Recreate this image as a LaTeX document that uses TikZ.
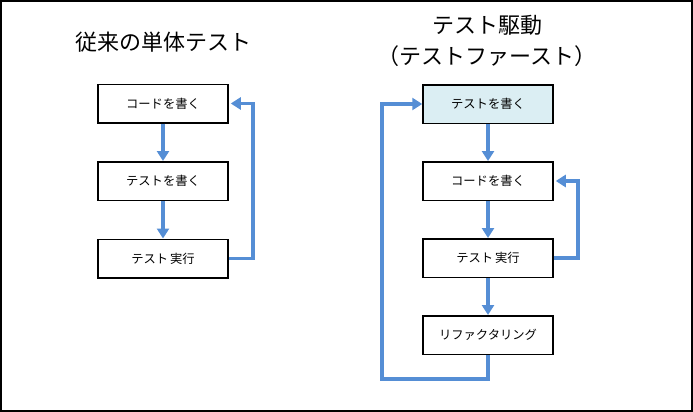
\documentclass[tikz,border=0pt]{standalone}
\usepackage{fontspec}
\setmainfont{Noto Sans CJK JP}
\usetikzlibrary{arrows.meta}
\definecolor{flowblue}{RGB}{85,142,213}
\definecolor{startfill}{RGB}{219,238,243}
\tikzset{
  stepbox/.style={draw=black,line width=1.5pt,minimum width=130pt,minimum height=38.5pt,inner sep=0pt,font=\fontsize{12.3pt}{14pt}\selectfont},
  flow/.style={draw=flowblue,line width=3.5pt,-{Triangle[width=12pt,length=10pt]}},
  titletext/.style={font=\fontsize{22pt}{26pt}\selectfont,inner sep=0pt,align=center}
}
\begin{document}
\begin{tikzpicture}[x=1pt,y=-1pt]
\useasboundingbox (0,0) rectangle (693,412);
\draw[line width=2pt] (1,1) rectangle (692,411);
% left
\node[titletext] (lt) at (163,42) {従来の単体テスト};
\node[stepbox] (L1) at (163,103.5) {コードを書く};
\node[stepbox] (L2) at (163,181) {テストを書く};
\node[stepbox] (L3) at (163,258.5) {テスト\hspace{2pt}実行};
\draw[flow] (L1) -- (L2);
\draw[flow] (L2) -- (L3);
\draw[flow,shorten >=2pt] (L3.east) -- ++(24,0) |- (L1.east);
% right
\node[titletext] (rt1) at (487,25) {テスト駆動};
\node[titletext] (rt2) at (487,56) {（テストファースト）};
\node[stepbox,fill=startfill] (R1) at (488,104) {テストを書く};
\node[stepbox] (R2) at (488,181) {コードを書く};
\node[stepbox] (R3) at (488,258) {テスト\hspace{2pt}実行};
\node[stepbox] (R4) at (488,335) {リファクタリング};
\draw[flow] (R1) -- (R2);
\draw[flow] (R2) -- (R3);
\draw[flow] (R3) -- (R4);
\draw[flow,shorten >=2pt] (R3.east) -- ++(24,0) |- (R2.east);
\coordinate (bl) at (382,379);
\draw[flow] (R4.south) |- (bl) |- (R1.west);
\end{tikzpicture}
\end{document}
